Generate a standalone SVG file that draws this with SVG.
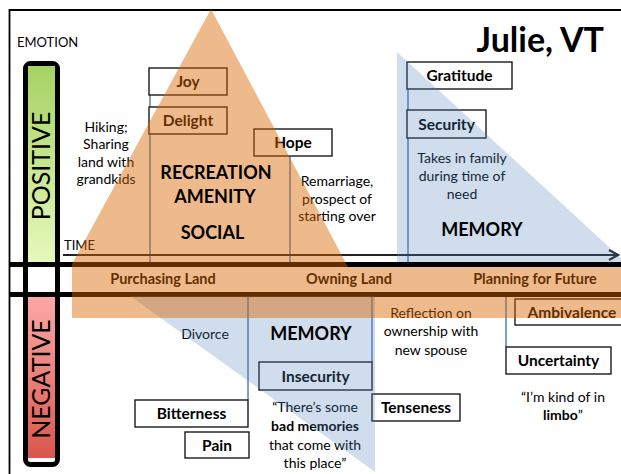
<svg xmlns="http://www.w3.org/2000/svg" width="621" height="474" viewBox="0 0 621 474">
  <defs>
    <linearGradient id="gPos" x1="0" y1="0" x2="0" y2="1">
      <stop offset="0" stop-color="#a6d264"/>
      <stop offset="1" stop-color="#e6f9bb"/>
    </linearGradient>
    <linearGradient id="gNeg" x1="0" y1="0" x2="0" y2="1">
      <stop offset="0" stop-color="#fba8a6"/>
      <stop offset="1" stop-color="#d9574c"/>
    </linearGradient>
    <marker id="chev" markerWidth="14" markerHeight="14" refX="11" refY="7" orient="auto" markerUnits="userSpaceOnUse">
      <path d="M2,2 L11,7 L2,12" fill="none" stroke="#222" stroke-width="2.2"/>
    </marker>
  </defs>
  <style>
    text { font-family: Lato, "Liberation Sans", sans-serif; fill: #000; }
    .body { font-size: 14px; text-anchor: middle; }
    .lbl { font-size: 15.5px; font-weight: bold; text-anchor: middle; }
    .band { font-size: 14.5px; font-weight: bold; text-anchor: middle; }
    .title { font-size: 18px; font-weight: bold; text-anchor: middle; }
    .axis { font-size: 25px; text-anchor: middle; }
    .box { fill: #fff; stroke: #1a1a1a; stroke-width: 1.4; }
    .stem { stroke: #4f81bd; stroke-width: 1.5; fill: none; }
    .rule { stroke: #000; stroke-width: 5; }
    .blue { fill: #4f81bd; fill-opacity: 0.27; }
    .orange { fill: #da6600; fill-opacity: 0.45; }
  </style>

  <rect width="621" height="474" fill="#fff"/>

  <!-- frame -->
  <path d="M9.5,474 L9.5,10 L621,10" fill="none" stroke="#000" stroke-width="1.8"/>

  <!-- emotion scale bar -->
  <g id="scale">
    <rect x="25.5" y="63.5" width="32" height="401" rx="5" fill="#fff" stroke="#000" stroke-width="5"/>
    <rect x="28" y="66" width="27" height="196" fill="url(#gPos)"/>
    <rect x="28" y="297" width="27" height="161" fill="url(#gNeg)"/>
    <text class="axis" transform="translate(50,166) rotate(-90)">POSITIVE</text>
    <text class="axis" transform="translate(50,379) rotate(-90)">NEGATIVE</text>
  </g>

  <text x="17" y="47" style="font-size:13px">EMOTION</text>
  <text x="604" y="52" style="font-size:34px;font-weight:bold;text-anchor:end">Julie, VT</text>

  <!-- connectors: stems from each emotion box to the timeline -->
  <g id="connectors">
    <line class="stem" x1="150" y1="68" x2="150" y2="264"/>
    <line class="stem" x1="290" y1="156" x2="290" y2="264"/>
    <line class="stem" x1="408" y1="62" x2="408" y2="262"/>
    <line class="stem" x1="248" y1="297" x2="248" y2="400"/>
    <line class="stem" x1="372" y1="297" x2="372" y2="362"/>
    <line class="stem" x1="506" y1="297" x2="506" y2="347"/>
  </g>

  <!-- positive emotions -->
  <g id="joy"><rect class="box" x="149" y="68" width="78" height="27"/><text class="lbl" x="188" y="87">Joy</text></g>
  <g id="delight"><rect class="box" x="149" y="107" width="78" height="27"/><text class="lbl" x="188" y="126">Delight</text></g>
  <g id="hope"><rect class="box" x="254" y="129" width="78" height="27"/><text class="lbl" x="293" y="148">Hope</text></g>
  <g id="gratitude"><rect class="box" x="407" y="62" width="105" height="27"/><text class="lbl" x="459.5" y="81">Gratitude</text></g>
  <g id="security"><rect class="box" x="407" y="110" width="79" height="28"/><text class="lbl" x="446.5" y="129.5">Security</text></g>

  <g id="note-hiking">
    <text class="body" x="106" y="131.5">Hiking;</text>
    <text class="body" x="106" y="149">Sharing</text>
    <text class="body" x="106" y="166.5">land with</text>
    <text class="body" x="106" y="184">grandkids</text>
  </g>
  <g id="note-remarriage">
    <text class="body" x="337" y="186">Remarriage,</text>
    <text class="body" x="337" y="203.5">prospect of</text>
    <text class="body" x="337" y="221">starting over</text>
  </g>
  <g id="note-family">
    <text class="body" x="462" y="163">Takes in family</text>
    <text class="body" x="462" y="181">during time of</text>
    <text class="body" x="462" y="199">need</text>
  </g>

  <!-- negative emotions -->
  <g id="insecurity"><rect class="box" x="259" y="362" width="113" height="28"/><text class="lbl" x="315.5" y="381.5">Insecurity</text></g>
  <g id="bitterness"><rect class="box" x="135" y="400" width="113" height="27"/><text class="lbl" x="191.5" y="419">Bitterness</text></g>
  <g id="pain"><rect class="box" x="185" y="432" width="64" height="26"/><text class="lbl" x="217" y="450.5">Pain</text></g>
  <g id="tenseness"><rect class="box" x="372" y="394" width="88" height="27"/><text class="lbl" x="416" y="413">Tenseness</text></g>
  <g id="ambivalence"><rect class="box" x="515" y="299" width="110" height="26"/><text class="lbl" x="572" y="317.5">Ambivalence</text></g>
  <g id="uncertainty"><rect class="box" x="506" y="347" width="105" height="27"/><text class="lbl" x="558.5" y="366">Uncertainty</text></g>

  <text class="body" x="205" y="339">Divorce</text>
  <g id="note-reflection">
    <text class="body" x="431" y="318">Reflection on</text>
    <text class="body" x="431" y="336">ownership with</text>
    <text class="body" x="431" y="355">new spouse</text>
  </g>
  <g id="note-memories">
    <text class="body" x="315" y="412">“There’s some</text>
    <text class="body" x="315" y="431" font-weight="bold">bad memories</text>
    <text class="body" x="315" y="449.5">that come with</text>
    <text class="body" x="315" y="468">this place”</text>
  </g>
  <g id="note-limbo">
    <text class="body" x="563" y="402">“I’m kind of in</text>
    <text class="body" x="563" y="420"><tspan font-weight="bold">limbo</tspan>”</text>
  </g>

  <!-- timeline rules and time axis -->
  <line class="rule" x1="10" y1="264.5" x2="621" y2="264.5"/>
  <line class="rule" x1="10" y1="294.5" x2="621" y2="294.5"/>
  <text x="64" y="250" style="font-size:13px">TIME</text>
  <line x1="63" y1="255" x2="618" y2="255" stroke="#222" stroke-width="2.2" marker-end="url(#chev)"/>

  <g id="phases">
    <text class="band" x="163" y="283.5">Purchasing Land</text>
    <text class="band" x="349" y="283.5">Owning Land</text>
    <text class="band" x="535" y="283.5">Planning for Future</text>
  </g>

  <!-- translucent areas -->
  <polygon class="blue" points="397,52 622,259 622,262 397,262"/>
  <polygon class="blue" points="130,296 375,296 375,472"/>
  <path class="orange" d="M211,9 L72,264 L72,318 L622,318 L622,267 L348,267 Z"/>

  <g id="area-labels">
    <text class="title" x="216" y="179">RECREATION</text>
    <text class="title" x="215" y="203">AMENITY</text>
    <text class="title" x="212.5" y="239">SOCIAL</text>
    <text class="title" x="482" y="236">MEMORY</text>
    <text class="title" x="311" y="340">MEMORY</text>
  </g>
</svg>
